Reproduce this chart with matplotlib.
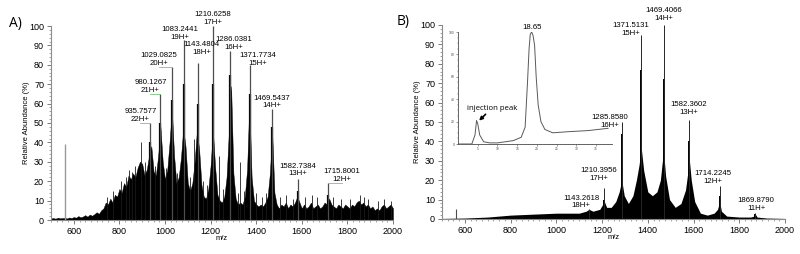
import numpy as np
import matplotlib
matplotlib.use("Agg")
import matplotlib.pyplot as plt
from matplotlib.ticker import MultipleLocator

plt.rcParams['font.family'] = ['Liberation Sans', 'DejaVu Sans']

# ---- panel A: spectrum outline, read every 10 m/z off the picture
a_env_mz = list(range(500, 2001, 10))
a_env_y = [0.8, 1, 0.7, 1.2, 0.9, 1, 1.1, 0.8, 1.3, 1,          # 500-590
           1.5, 1.2, 2, 1.4, 1.8, 2.5, 1.7, 2.8, 2.2, 3,         # 600-690
           4, 3.2, 5, 6, 9, 8, 11, 9, 13, 12,                    # 700-790
           16, 14, 19, 17, 23, 21, 24, 22, 27, 30,               # 800-890
           29, 23, 26, 33, 38, 25, 23, 33, 48, 30,               # 900-990
           21, 26, 40, 57, 33, 19, 22, 32, 47, 38,               # 1000-1090
           19, 15, 19, 30, 46, 36, 18, 12, 11, 16,               # 1100-1190
           28, 46, 27, 13, 10, 9, 12, 22, 45, 69,                # 1200-1290
           24, 11, 8, 9, 8, 12, 26, 60, 22, 10,                  # 1300-1390
           8, 7, 8, 7, 9, 12, 24, 45, 14, 8,                     # 1400-1490
           6, 8, 7, 9, 6, 8, 7, 9, 12, 9,                        # 1500-1590
           6, 8, 6, 7, 9, 6, 7, 8, 6, 7,                         # 1600-1690
           9, 8, 11, 8, 7, 6, 8, 7, 6, 8,                        # 1700-1790
           7, 6, 8, 7, 9, 10, 8, 9, 7, 8,                        # 1800-1890
           6, 7, 5, 6, 5, 7, 8, 6, 7, 8,                         # 1900-1990
           6]                                                    # 2000

a_peak_mz = [935.7577, 980.1267, 1029.0825, 1083.2441, 1143.4804, 1210.6258,
             1286.0381, 1371.7734, 1469.5437, 1582.7384, 1715.8001]
a_peak_h = [50, 65, 79, 93, 81, 100, 87, 80, 57, 21, 19]
a_thick_h = [40, 50, 62, 70, 60, 70, 75, 65, 48, 15, 13]
a_charge = ['22H+', '21H+', '20H+', '19H+', '18H+', '17H+', '16H+', '15H+', '14H+', '13H+', '12H+']
a_solvent_mz = [560]
a_solvent_h = [39]
a_noise_mz = [745, 772, 805, 828, 843, 856, 868, 894, 912, 958, 1003, 1052, 1108, 1125, 1168, 1186, 1235, 1256,
              1318, 1330, 1345, 1398, 1425, 1445, 1505, 1532, 1560, 1612, 1645, 1668, 1735, 1772, 1810, 1855,
              1872, 1890, 1935, 1962, 1990]
a_noise_h = [12, 15, 20, 22, 26, 25, 28, 40, 30, 28, 27, 24, 22, 42, 20, 18, 33, 16,
             14, 30, 15, 14, 12, 14, 12, 13, 11, 12, 13, 12, 12, 11, 11, 13,
             12, 11, 10, 11, 10]

# ---- panel B
b_env_mz = [500, 600, 700, 800, 900, 1000, 1050, 1100, 1130, 1143, 1160, 1190, 1200, 1210, 1220, 1240, 1260,
            1275, 1286, 1297, 1315, 1335, 1350, 1362, 1371, 1382, 1400, 1420, 1440, 1455, 1462, 1469, 1478,
            1495, 1520, 1545, 1565, 1575, 1582, 1590, 1605, 1630, 1660, 1690, 1705, 1714, 1722, 1745, 1800,
            1850, 1865, 1870, 1878, 1920, 2000]
b_env_y = [0.3, 0.5, 1, 2, 2.5, 3, 3, 3, 4, 5, 4, 5, 7, 9, 6, 6, 9,
           14, 20, 12, 8, 12, 20, 28, 37, 25, 14, 12, 14, 20, 28, 35, 22,
           10, 6, 8, 15, 24, 30, 20, 9, 3, 2, 3, 5, 9, 4, 1.5, 1,
           1, 1.5, 2.5, 1, 0.5, 0.3]

b_peak_mz = [1143.2618, 1210.3956, 1285.8580, 1371.5131, 1469.4066, 1582.3602, 1714.2245, 1869.8790]
b_peak_h = [5, 16, 50, 95, 100, 51, 17, 3]
b_thick_h = [4, 10, 44, 77, 72, 40, 12, 2.5]
b_charge = ['18H+', '17H+', '16H+', '15H+', '14H+', '13H+', '12H+', '11H+']
b_solvent_mz = [560]
b_solvent_h = [5]

# ---- inset chromatogram (time, % intensity)
chrom_t = [0, 3.5, 4.3, 4.7, 5.0, 5.5, 6.5, 8, 10, 14, 16, 17, 17.6, 18.0, 18.3, 18.65, 19.0, 19.4, 19.8,
           20.3, 21, 22, 24, 28, 33, 38]
chrom_i = [0, 0, 8, 21, 18, 8, 2, 1, 1, 3, 6, 15, 55, 85, 98, 100, 97, 88, 60,
           35, 20, 13, 10, 11, 12, 14]

# label offsets in pixels (dx, dy), layout only
a_off = [(-10, 0), (-10, 0), (-13, 0), (-4, -1), (4, 7), (0, 0), (4, 0), (8, -2), (0, 0), (0, 2), (14, 0)]
a_green = [True, True, True, False, False, False, False, False, False, False, True]
b_off = [(-8, 0), (-6, 6), (-12, -7), (-11, -2), (0, 3), (-1, 4), (-7, 1), (1, 1)]

fig = plt.figure(figsize=(8, 2.54), dpi=100)
axA = fig.add_axes([51 / 800, 1 - 220 / 254, 342 / 800, 194 / 254])
axB = fig.add_axes([442 / 800, 1 - 219 / 254, 343 / 800, 194 / 254])

px = 0.72  # points per pixel


def style(ax):
    for s in ['top', 'right']:
        ax.spines[s].set_visible(False)
    for s in ['left', 'bottom']:
        ax.spines[s].set_color('0.55')
        ax.spines[s].set_linewidth(0.8)
    ax.set_xlim(500, 2000)
    ax.set_ylim(0, 100)
    ax.xaxis.set_minor_locator(MultipleLocator(25))
    ax.yaxis.set_major_locator(MultipleLocator(10))
    ax.yaxis.set_minor_locator(MultipleLocator(2))
    ax.set_xticks(range(600, 2001, 200))
    ax.tick_params(which='major', length=3, width=0.6, color='0.4', labelsize=6.5, pad=2)
    ax.tick_params(which='minor', length=1.5, width=0.5, color='0.5')
    ax.set_xlabel('m/z', fontsize=5.5, labelpad=-0.5)
    ax.set_ylabel('Relative Abundance (%)', fontsize=5.5, labelpad=-1)


for ax in (axA, axB):
    style(ax)

# panel A
axA.fill_between(a_env_mz, 0, a_env_y, color='black', lw=0.3, edgecolor='black', zorder=2)
axA.vlines(a_noise_mz, 0, a_noise_h, color='0.1', lw=0.6, zorder=3)
axA.vlines(a_solvent_mz, 0, a_solvent_h, color='0.6', lw=1.0, zorder=3)
axA.vlines(a_peak_mz, 0, a_thick_h, color='black', lw=1.6, zorder=3)
axA.vlines(a_peak_mz, 0, a_peak_h, color='0.3', lw=0.9, zorder=3)
for mz, h, ch, (dx, dy), g in zip(a_peak_mz, a_peak_h, a_charge, a_off, a_green):
    axA.annotate('%.4f\n%s' % (mz, ch), (mz, h), xytext=(dx * px, dy * px), textcoords='offset points',
                 ha='center', va='bottom', fontsize=5.6, linespacing=1.15, annotation_clip=False, zorder=5)
    if g:
        x_lab = mz + dx / 0.228
        axA.plot([x_lab, mz], [h, h], color='#7cc47c', lw=0.6, zorder=4, clip_on=False)

# panel B
axB.fill_between(b_env_mz, 0, b_env_y, color='black', lw=0, zorder=2)
axB.vlines(b_solvent_mz, 0, b_solvent_h, color='0.3', lw=0.8, zorder=3)
axB.vlines(b_peak_mz, 0, b_thick_h, color='black', lw=1.4, zorder=3)
axB.vlines(b_peak_mz, 0, b_peak_h, color='0.15', lw=0.7, zorder=3)
for mz, h, ch, (dx, dy) in zip(b_peak_mz, b_peak_h, b_charge, b_off):
    axB.annotate('%.4f\n%s' % (mz, ch), (mz, h), xytext=(dx * px, dy * px), textcoords='offset points',
                 ha='center', va='bottom', fontsize=5.6, linespacing=1.15, annotation_clip=False, zorder=5)

# inset chromatogram
axI = fig.add_axes([458 / 800, 1 - 144 / 254, 154 / 800, 112 / 254])
axI.patch.set_alpha(0)
axI.plot(chrom_t, chrom_i, color='0.35', lw=0.7)
axI.set_xlim(0, 39)
axI.set_ylim(0, 100)
for s in ['top', 'right']:
    axI.spines[s].set_visible(False)
for s in ['left', 'bottom']:
    axI.spines[s].set_color('0.3')
    axI.spines[s].set_linewidth(0.6)
axI.set_xticks(range(5, 36, 5))
axI.xaxis.set_minor_locator(MultipleLocator(1))
axI.yaxis.set_major_locator(MultipleLocator(20))
axI.yaxis.set_minor_locator(MultipleLocator(5))
axI.tick_params(which='major', length=1.5, width=0.4, labelsize=2.4, pad=1, color='0.3', labelcolor='0.3')
axI.tick_params(which='minor', length=0.8, width=0.3, color='0.4')
axI.annotate('18.65', (18.65, 100), xytext=(0, 1), textcoords='offset points', ha='center', va='bottom',
             fontsize=5.6, annotation_clip=False)
axI.annotate('injection peak', xy=(5.1, 20), xytext=(8.6, 29), ha='center', va='bottom',
             fontsize=5.6, family=['Open Sans', 'DejaVu Sans'],
             arrowprops=dict(arrowstyle='-|>', color='black', lw=1.2, mutation_scale=5, shrinkA=0, shrinkB=1))

fig.text(15 / 800, 1 - 24 / 254, 'A)', fontsize=10, ha='center', va='center', family=['Open Sans', 'DejaVu Sans'])
fig.text(403 / 800, 1 - 22 / 254, 'B)', fontsize=10, ha='center', va='center', family=['Open Sans', 'DejaVu Sans'])

fig.savefig('out.png', dpi=100)
